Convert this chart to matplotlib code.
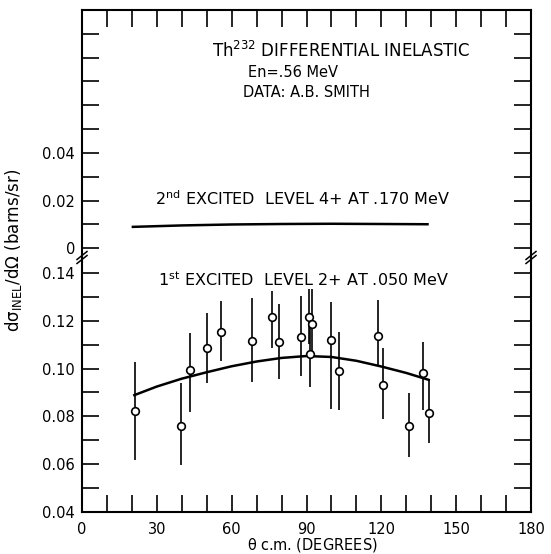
import matplotlib
matplotlib.use("Agg")
import matplotlib.pyplot as plt
from matplotlib.lines import Line2D

plt.rcParams['font.family'] = ['DejaVu Sans']
plt.rcParams['mathtext.default'] = 'regular'

# ---------------- data ----------------
# 1st excited level (2+ at .050 MeV): measured points
theta_pts = [21.2, 39.7, 43.1, 50.2, 55.7, 68.3, 76.1, 78.9, 87.9, 90.9,
             92.3, 91.5, 100.0, 103.0, 118.8, 120.6, 131.2, 136.9, 139.3]
sigma_pts = [0.0822, 0.0759, 0.0994, 0.1085, 0.1154, 0.1117, 0.1218, 0.1110, 0.1132, 0.1218,
             0.1189, 0.1061, 0.1120, 0.0991, 0.1136, 0.0933, 0.0758, 0.0980, 0.0813]
err_plus = [0.0207, 0.0179, 0.0154, 0.0150, 0.0130, 0.0178, 0.0109, 0.0161, 0.0173, 0.0115,
            0.0145, 0.0140, 0.0158, 0.0161, 0.0152, 0.0152, 0.0141, 0.0130, 0.0139]
err_minus = [0.0205, 0.0163, 0.0174, 0.0144, 0.0120, 0.0172, 0.0130, 0.0155, 0.0162, 0.0115,
             0.0145, 0.0140, 0.0291, 0.0164, 0.0121, 0.0146, 0.0127, 0.0153, 0.0126]

# 1st excited level: calculated curve
theta_fit1 = [21, 30, 40, 50, 60, 70, 80, 90, 100, 110, 120, 130, 139]
sigma_fit1 = [0.0889, 0.0925, 0.0958, 0.0985, 0.1010, 0.1030, 0.1045, 0.1053, 0.1049,
              0.1033, 0.1009, 0.0982, 0.0953]

# 2nd excited level (4+ at .170 MeV): calculated curve
theta_fit2 = [20.4, 40, 60, 80, 100, 120, 138.5]
sigma_fit2 = [0.0090, 0.0096, 0.0100, 0.0102, 0.0103, 0.0102, 0.0101]

x_ticks_labeled = [0, 30, 60, 90, 120, 150, 180]
y_labels_lower = ["0.04", "0.06", "0.08", "0.10", "0.12", "0.14"]
y_labels_upper = ["0", "0.02", "0.04"]

# ---------------- figure ----------------
W, H = 551, 554
fig = plt.figure(figsize=(W / 100, H / 100), dpi=100)

left = 82 / W
width = (531 - 82) / W
split = 260.8
ax_lo = fig.add_axes([left, 1 - 511.7 / H, width, (511.7 - split) / H])
ax_up = fig.add_axes([left, 1 - split / H, width, (split - 10) / H])

for ax in (ax_lo, ax_up):
    ax.set_xlim(0, 180)
    for s in ax.spines.values():
        s.set_linewidth(1.5)
ax_lo.set_ylim(0.04, 0.14524)
ax_up.set_ylim(-0.00524, 0.100)
ax_lo.spines['top'].set_visible(False)
ax_up.spines['bottom'].set_visible(False)

tick_kw = dict(direction='in', length=12.5, width=1.2, labelsize=10.5)
# x ticks
xt = list(range(0, 181, 10))
ax_lo.set_xticks(xt)
ax_lo.set_xticklabels([str(v) if v in x_ticks_labeled else "" for v in xt])
ax_lo.tick_params(axis='x', bottom=True, top=False, pad=7.5, **tick_kw)
ax_up.set_xticks(xt)
ax_up.tick_params(axis='x', bottom=False, top=True, labelbottom=False, labeltop=False, **tick_kw)

# y ticks lower
yt_lo = [0.04 + 0.01 * i for i in range(11)]
ax_lo.set_yticks(yt_lo)
lab_lo = []
for i in range(11):
    lab_lo.append(y_labels_lower[i // 2] if i % 2 == 0 else "")
ax_lo.set_yticklabels(lab_lo)
ax_lo.tick_params(axis='y', left=True, right=True, pad=5, **tick_kw)

# y ticks upper
yt_up = [0.01 * i for i in range(10)]
ax_up.set_yticks(yt_up)
lab_up = []
for i in range(10):
    if i % 2 == 0 and i // 2 < len(y_labels_upper):
        lab_up.append(y_labels_upper[i // 2])
    else:
        lab_up.append("")
ax_up.set_yticklabels(lab_up)
ax_up.tick_params(axis='y', left=True, right=True, pad=5, **tick_kw)

# ---------------- data marks ----------------
ax_lo.errorbar(theta_pts, sigma_pts, yerr=[err_minus, err_plus], fmt='none',
               ecolor='black', elinewidth=1.2, capsize=0, zorder=2)
ax_lo.plot(theta_pts, sigma_pts, 'o', mfc='white', mec='black', ms=5.5, mew=1.2, zorder=3)
ax_lo.plot(theta_fit1, sigma_fit1, '-', color='black', lw=1.8, zorder=2)
ax_up.plot(theta_fit2, sigma_fit2, '-', color='black', lw=1.8)

# ---------------- texts ----------------
def px(x, y):
    return x / W, 1 - y / H

fig.text(*px(211.7, 56.7), r"Th$^{232}$ DIFFERENTIAL INELASTIC", fontsize=12,
         ha='left', va='baseline')
fig.text(*px(248, 77.3), "En=.56 MeV", fontsize=10.5, ha='left', va='baseline')
fig.text(*px(243, 96.7), "DATA: A.B. SMITH", fontsize=10.5, ha='left', va='baseline')
fig.text(*px(155, 205), r"2$^{nd}$ EXCITED  LEVEL 4+ AT .170 MeV", fontsize=11.5,
         ha='left', va='baseline')
fig.text(*px(158, 285.5), r"1$^{st}$ EXCITED  LEVEL 2+ AT .050 MeV", fontsize=11.5,
         ha='left', va='baseline')

fig.text(*px(14, 250), r"d$\sigma_{INEL}$/d$\Omega$ (barns/sr)", rotation=90,
         fontsize=12, ha='center', va='center')
fig.text(*px(312, 550), r"$\theta$ c.m. (DEGREES)", fontsize=10.5, ha='center',
         va='baseline')

# ---------------- axis break marks ----------------
for xc in (82, 531):
    for yc in (255.5, 259.5):
        x0, y0 = px(xc - 5, yc + 4)
        x1, y1 = px(xc + 5, yc - 4)
        fig.add_artist(Line2D([x0, x1], [y0, y1], color='black', lw=1.1,
                              transform=fig.transFigure))

fig.savefig("out.png", dpi=100, facecolor='white')
